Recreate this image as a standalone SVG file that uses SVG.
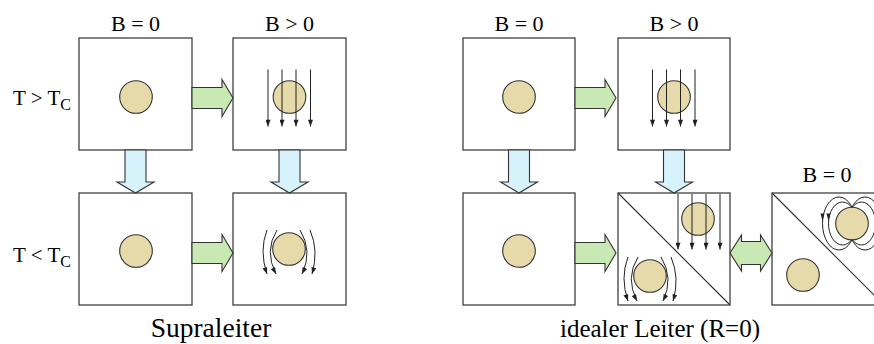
<svg xmlns="http://www.w3.org/2000/svg" xmlns:xlink="http://www.w3.org/1999/xlink" width="874" height="344" viewBox="0 0 874 344">
  <style>
    .panel { fill: #ffffff; stroke: #404040; stroke-width: 1.3; }
    .diag { fill: none; stroke: #303030; stroke-width: 1.1; }
    .ball { fill: #e6d9aa; stroke: #333333; stroke-width: 1.1; }
    .green { fill: #c8e8b4; stroke: #333333; stroke-width: 1.1; stroke-linejoin: miter; }
    .blue { fill: #d6f2fb; stroke: #333333; stroke-width: 1.1; stroke-linejoin: miter; }
    .field { fill: none; stroke: #222222; stroke-width: 1; }
    .fieldArrow { fill: none; stroke: #222222; stroke-width: 1; marker-end: url(#tip); }
    text { font-family: "Liberation Serif", "Times New Roman", serif; fill: #000000; }
  </style>
  <defs>
    <marker id="tip" viewBox="0 0 8 6" refX="8" refY="3" markerWidth="8" markerHeight="5" markerUnits="userSpaceOnUse" orient="auto">
      <path d="M0,0 L8,3 L0,6 Z" fill="#222222"/>
    </marker>
    <!-- block arrow pointing right, origin at left end / centre line -->
    <path id="arrowRight" class="green" d="M0,-10.5 H30 V-18.5 L41,0 L30,18.5 V10.5 H0 Z"/>
    <!-- block arrow pointing down, origin at top end / centre line -->
    <path id="arrowDown" class="blue" d="M-10.5,0 V32 H-18.5 L0,43 L18.5,32 H10.5 V0 Z"/>
    <!-- straight homogeneous field: four parallel lines -->
    <g id="straightField">
      <line class="fieldArrow" x1="-21.5" y1="0" x2="-21.5" y2="57"/>
      <line class="fieldArrow" x1="-7.5" y1="0" x2="-7.5" y2="57"/>
      <line class="fieldArrow" x1="6.5" y1="0" x2="6.5" y2="57"/>
      <line class="fieldArrow" x1="21" y1="0" x2="21" y2="57"/>
    </g>
    <!-- field lines bent around an expelling sphere, origin at sphere centre -->
    <g id="bentField">
      <path class="fieldArrow" d="M-22,-19 Q-30,2 -22,25"/>
      <path class="fieldArrow" d="M-12,-19 Q-25,2 -13,25"/>
      <path class="fieldArrow" d="M11,-19 Q24,2 13,25"/>
      <path class="fieldArrow" d="M21,-19 Q30,2 23,25"/>
    </g>
  </defs>

  <!-- column headers and row labels -->
  <g id="labels">
    <text x="135.5" y="31" font-family="Liberation Serif, serif" font-size="22" text-anchor="middle">B = 0</text>
    <text x="289.5" y="31" font-family="Liberation Serif, serif" font-size="22" text-anchor="middle">B &gt; 0</text>
    <text x="519" y="31" font-family="Liberation Serif, serif" font-size="22" text-anchor="middle">B = 0</text>
    <text x="674" y="31" font-family="Liberation Serif, serif" font-size="22" text-anchor="middle">B &gt; 0</text>
    <text x="827" y="182" font-family="Liberation Serif, serif" font-size="22" text-anchor="middle">B = 0</text>
    <text x="13" y="105" font-family="Liberation Serif, serif" font-size="21">T &gt; T<tspan font-size="16" dy="5">C</tspan></text>
    <text x="13" y="262" font-family="Liberation Serif, serif" font-size="21">T &lt; T<tspan font-size="16" dy="5">C</tspan></text>
    <text x="211" y="337" font-family="Liberation Serif, serif" font-size="27.5" text-anchor="middle">Supraleiter</text>
    <text x="660" y="337" font-family="Liberation Serif, serif" font-size="25" text-anchor="middle">idealer Leiter (R=0)</text>
  </g>

  <!-- superconductor, normal state, no field -->
  <g id="sc-warm-off">
    <rect class="panel" x="79" y="38" width="113" height="112"/>
    <circle class="ball" cx="136" cy="97" r="16.3"/>
  </g>

  <!-- superconductor, normal state, field on -->
  <g id="sc-warm-on">
    <rect class="panel" x="233" y="38" width="113" height="112"/>
    <circle class="ball" cx="289.5" cy="97" r="16.3"/>
    <use xlink:href="#straightField" transform="translate(289.5,69.5)"/>
  </g>

  <!-- superconductor, cooled, no field -->
  <g id="sc-cold-off">
    <rect class="panel" x="79" y="193" width="113" height="112"/>
    <circle class="ball" cx="136" cy="251" r="16.3"/>
  </g>

  <!-- superconductor, cooled, field expelled -->
  <g id="sc-cold-on">
    <rect class="panel" x="233" y="193" width="113" height="112"/>
    <use xlink:href="#bentField" transform="translate(289,249)"/>
    <circle class="ball" cx="289" cy="249" r="16.3"/>
  </g>

  <!-- ideal conductor, warm, no field -->
  <g id="ic-warm-off">
    <rect class="panel" x="463" y="38" width="112" height="112"/>
    <circle class="ball" cx="519" cy="97" r="16.3"/>
  </g>

  <!-- ideal conductor, warm, field on -->
  <g id="ic-warm-on">
    <rect class="panel" x="618" y="38" width="112" height="112"/>
    <circle class="ball" cx="674" cy="97" r="16.3"/>
    <use xlink:href="#straightField" transform="translate(674,69.5)"/>
  </g>

  <!-- ideal conductor, cooled, no field -->
  <g id="ic-cold-off">
    <rect class="panel" x="463" y="193" width="112" height="112"/>
    <circle class="ball" cx="519" cy="251" r="16.3"/>
  </g>

  <!-- ideal conductor, cooled: field switched on afterwards / cooled in field -->
  <g id="ic-cold-on">
    <rect class="panel" x="618" y="193" width="112" height="112"/>
    <line class="diag" x1="618" y1="193" x2="730" y2="305"/>
    <circle class="ball" cx="698" cy="219" r="16.3"/>
    <line class="fieldArrow" x1="678" y1="194" x2="678" y2="249.5"/>
    <line class="fieldArrow" x1="692" y1="194" x2="692" y2="249.5"/>
    <line class="fieldArrow" x1="706" y1="194" x2="706" y2="249.5"/>
    <line class="fieldArrow" x1="720" y1="194" x2="720" y2="249.5"/>
    <use xlink:href="#bentField" transform="translate(650,276)"/>
    <circle class="ball" cx="650" cy="276" r="16.3"/>
  </g>

  <!-- ideal conductor, cooled, field switched off again -->
  <g id="ic-cold-off-after">
    <rect class="panel" x="772" y="193" width="112" height="112"/>
    <line class="diag" x1="772" y1="193" x2="884" y2="305"/>
    <circle class="ball" cx="803" cy="275" r="16.3"/>
    <ellipse class="field" cx="839" cy="223.5" rx="16.5" ry="26.5"/>
    <ellipse class="field" cx="842.5" cy="223.5" rx="14" ry="21.5"/>
    <ellipse class="field" cx="865" cy="223.5" rx="16.5" ry="26.5"/>
    <ellipse class="field" cx="861.5" cy="223.5" rx="14" ry="21.5"/>
    <polygon points="820.5,213.5 824.5,213.5 822.5,221" fill="#222222"/>
    <polygon points="826.5,213.5 830.5,213.5 828.5,221" fill="#222222"/>
    <circle class="ball" cx="852" cy="223.5" r="16.3"/>
  </g>

  <!-- transition arrows -->
  <g id="connectors">
    <use xlink:href="#arrowRight" transform="translate(192,98)"/>
    <use xlink:href="#arrowRight" transform="translate(192,253)"/>
    <use xlink:href="#arrowRight" transform="translate(575,98)"/>
    <use xlink:href="#arrowRight" transform="translate(575,253)"/>
    <use xlink:href="#arrowDown" transform="translate(135.5,150)"/>
    <use xlink:href="#arrowDown" transform="translate(289.5,150)"/>
    <use xlink:href="#arrowDown" transform="translate(519,150)"/>
    <use xlink:href="#arrowDown" transform="translate(674,150)"/>
    <path class="green" d="M730,253 L741.5,235 V241.5 H760.5 V235 L772,253 L760.5,271 V264.5 H741.5 V271 Z"/>
  </g>
</svg>
